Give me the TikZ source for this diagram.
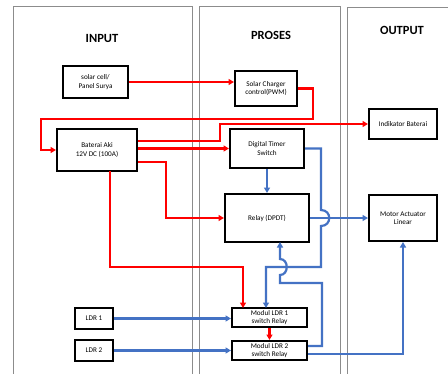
\documentclass[tikz,border=0pt]{standalone}
\usepackage{fontspec}
\setmainfont{Carlito}
\usetikzlibrary{arrows.meta}
\definecolor{wirered}{RGB}{255,0,0}
\definecolor{wireblue}{RGB}{68,114,196}
\definecolor{panelgray}{RGB}{140,140,140}
\tikzset{
  panel/.style={draw=panelgray, line width=1pt},
  title/.style={font=\bfseries\fontsize{12.5}{13}\selectfont},
  blk/.style={draw=black, line width=2pt, fill=white, align=center,
    inner sep=0pt, font=\fontsize{7.2}{8.4}\selectfont},
  tip/.style={-{Triangle[length=5.5pt,width=6pt]}},
  redw/.style={draw=wirered, line width=2.2pt, tip},
  bluew/.style={draw=wireblue, line width=2.2pt, tip},
}
\begin{document}
\begin{tikzpicture}[x=1pt,y=-1pt]
\useasboundingbox (0,0) rectangle (448,373);
\clip (0,0) rectangle (448,373);
\fill[white] (0,0) rectangle (448,373);

% three column panels
\draw[panel] (13,6) rectangle (192,390);
\draw[panel] (199,6) rectangle (340,390);
\draw[panel] (347,7) rectangle (460,390);
\node[title] (tin) at (102,38) {INPUT};
\node[title] (tpr) at (271,35) {PROSES};
\node[title] (tout) at (402,30) {OUTPUT};

% blocks
\node[blk, minimum width=65, minimum height=32] (solar) at (95.5,82) {solar cell/\\Panel Surya};
\node[blk, minimum width=80, minimum height=42] (aki) at (97,150) {Baterai Aki\\12V DC (100A)};
\node[blk, minimum width=62, minimum height=35] (scc) at (266,88.5) {Solar Charger\\control(PWM)};
\node[blk, minimum width=68, minimum height=30] (ind) at (403,124) {Indikator Baterai};
\node[blk, minimum width=74, minimum height=39] (timer) at (267,148.5) {Digital Timer\\Switch};
\node[blk, minimum width=84, minimum height=48] (relay) at (267,218) {Relay (DPDT)};
\node[blk, minimum width=68, minimum height=46] (motor) at (403,218) {Motor Actuator\\Linear};
\node[blk, minimum width=75, minimum height=19] (m1) at (269.5,317.5) {Modul LDR 1\\switch Relay};
\node[blk, minimum width=75, minimum height=19] (m2) at (269.5,350.5) {Modul LDR 2\\switch Relay};
\node[blk, minimum width=38, minimum height=21] (ldr1) at (94,318.5) {LDR 1};
\node[blk, minimum width=38, minimum height=21] (ldr2) at (94,350.5) {LDR 2};

% power wiring
\draw[redw] (solar.east) -- (scc.west |- solar.east);
\draw[redw] (scc.east) -- (313,88.5) -- (313,119) -- (41,119) -- (41,150) -- (aki.west);
\draw[redw] (aki.east |- 0,141) -- (220,141) -- (220,124) -- (ind.west);
\draw[redw] (aki.east |- timer.west) -- (timer.west);
\draw[redw] (aki.east |- 0,162) -- (166,162) -- (166,218) -- (relay.west);
\draw[redw] (110,171) -- (110,267) -- (243,267) -- (243,308);
\draw[redw] (m1.south) -- (m2.north);

% signal wiring
\draw[bluew] (ldr1.east) -- (m1.west |- ldr1.east);
\draw[bluew] (ldr2.east) -- (m2.west |- ldr2.east);
\draw[bluew] (timer.south) -- (relay.north);
\draw[bluew] (relay.east) -- (motor.west);
\draw[bluew] (timer.east) -- (321,148.5) -- (321,210)
  .. controls (332,210) and (332,226) .. (321,226)
  -- (321,267) -- (266,267) -- (266,308);
\draw[bluew] (m2.east |- 0,346) -- (322,346) -- (322,283) -- (280,283) -- (280,275)
  .. controls (289,275) and (289,259) .. (280,259) -- (280,242);
\draw[bluew] (m2.east |- 0,354) -- (403,354) -- (motor.south);
\end{tikzpicture}
\end{document}
